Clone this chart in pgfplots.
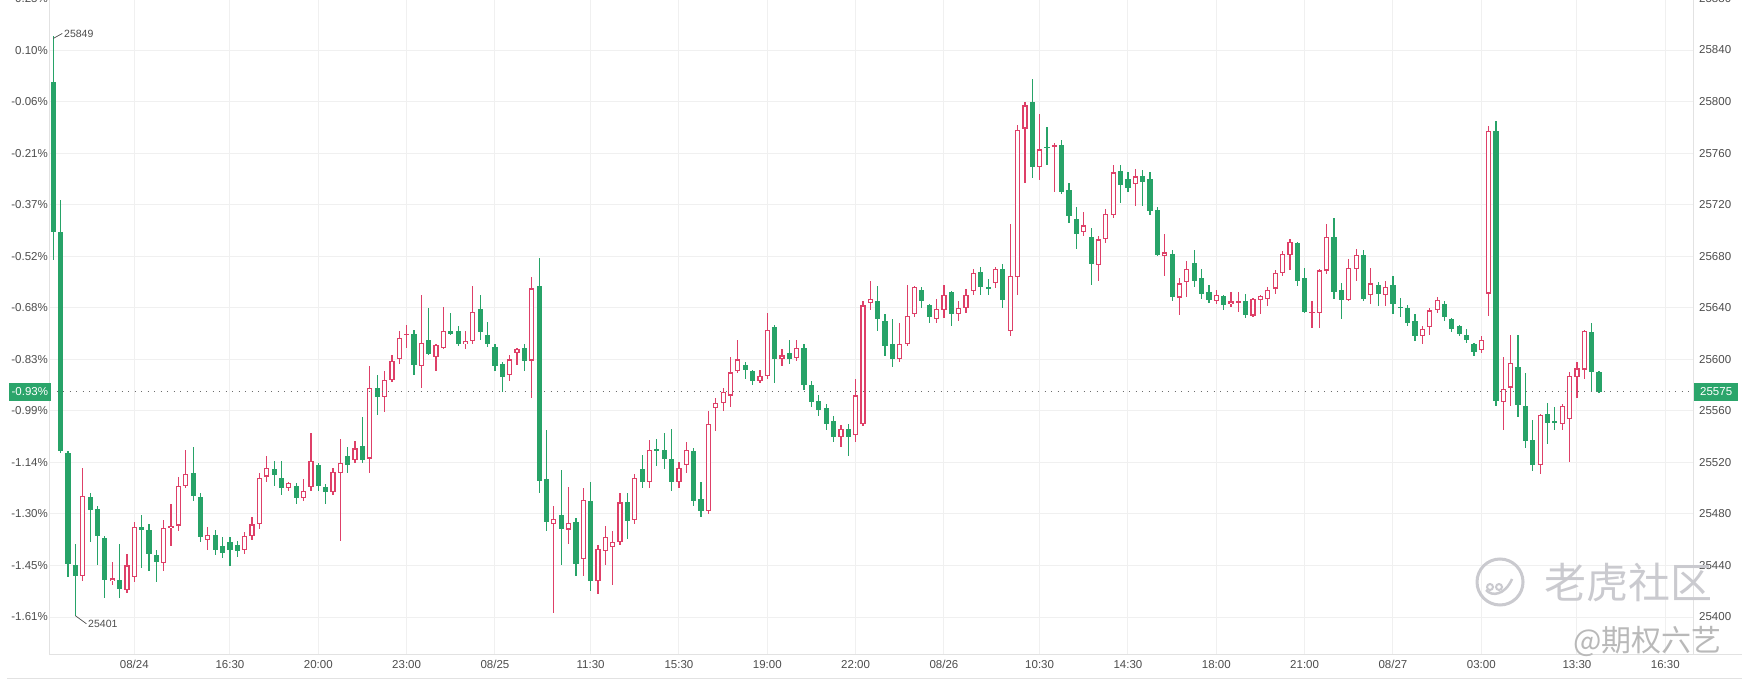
\documentclass[border=0pt]{standalone}
\usepackage{pgfplots}
\pgfplotsset{compat=1.18}
\usepackage{pgfplotstable}
\usepackage{fontspec}
\setmainfont{Liberation Sans}
\newfontfamily\cjk{Noto Sans CJK SC}
\definecolor{cred}{HTML}{DE4068}
\definecolor{cgreen}{HTML}{27A368}
\definecolor{boxgreen}{HTML}{2BA56B}
\definecolor{gridc}{HTML}{F0F0F0}
\definecolor{axc}{HTML}{E2E2E2}
\definecolor{lbl}{HTML}{4D4D4D}
\definecolor{wm}{HTML}{CACACF}

\pgfplotstableread{
i o h l c
4 25432 25516 25428 25494
8 25428 25443 25425 25430
10 25421 25449 25419 25440
11 25431 25474 25427 25470
15 25442 25475 25436 25469
16 25469 25488 25455 25471
17 25471 25509 25467 25502
18 25502 25530 25500 25511
21 25460 25470 25452 25464
26 25452 25466 25449 25463
27 25463 25478 25460 25472
28 25472 25512 25468 25508
29 25509 25525 25505 25516
32 25500 25505 25498 25504
34 25492 25507 25490 25498
35 25501 25543 25498 25521
38 25497 25516 25495 25513
39 25512 25538 25459 25520
41 25522 25537 25520 25531
43 25523 25595 25512 25578
45 25571 25591 25559 25584
46 25584 25603 25582 25599
47 25600 25622 25596 25617
48 25619 25627 25609 25620
50 25595 25650 25578 25613
52 25602 25612 25591 25611
53 25609 25641 25608 25622
56 25612 25622 25608 25614
57 25614 25657 25612 25637
62 25588 25603 25583 25600
63 25605 25609 25596 25608
65 25599 25664 25570 25655
68 25472 25486 25403 25476
70 25468 25501 25457 25473
72 25445 25500 25432 25491
74 25428 25456 25418 25453
75 25451 25471 25440 25462
76 25454 25467 25425 25458
77 25458 25496 25456 25489
79 25475 25511 25472 25508
81 25505 25537 25500 25530
85 25505 25520 25500 25516
86 25518 25536 25512 25530
89 25482 25560 25480 25550
90 25562 25570 25544 25566
91 25566 25578 25560 25575
92 25572 25602 25563 25590
93 25591 25615 25589 25600
96 25583 25592 25582 25587
97 25587 25636 25585 25623
99 25600 25608 25595 25603
101 25601 25615 25599 25609
107 25540 25549 25532 25546
109 25541 25585 25536 25572
110 25550 25645 25548 25642
111 25644 25661 25638 25647
115 25600 25628 25598 25612
116 25612 25658 25610 25634
117 25635 25657 25633 25656
120 25631 25647 25628 25639
121 25638 25658 25632 25650
123 25635 25645 25630 25640
124 25640 25655 25636 25650
125 25653 25670 25650 25667
128 25659 25672 25655 25670
130 25622 25705 25618 25665
131 25664 25782 25650 25778
132 25779 25800 25737 25797
134 25749 25790 25739 25763
136 25765 25768 25730 25766
140 25699 25714 25696 25704
142 25673 25696 25661 25693
143 25693 25717 25690 25713
144 25712 25751 25710 25745
147 25736 25748 25719 25742
151 25680 25697 25665 25683
153 25648 25663 25634 25659
154 25660 25676 25648 25670
158 25645 25654 25643 25650
160 25643 25652 25641 25645
161 25644 25652 25637 25645
163 25634 25648 25633 25647
164 25646 25650 25635 25649
165 25647 25656 25641 25654
166 25655 25669 25651 25667
167 25667 25684 25665 25682
168 25681 25693 25669 25691
171 25636 25645 25624 25637
172 25636 25670 25624 25669
173 25669 25705 25666 25695
176 25646 25678 25645 25671
177 25670 25686 25661 25681
179 25650 25671 25643 25659
181 25650 25661 25641 25656
186 25618 25626 25612 25624
187 25625 25640 25619 25638
188 25638 25648 25636 25646
194 25607 25618 25605 25615
195 25651 25781 25634 25777
197 25567 25602 25545 25577
198 25578 25619 25564 25597
202 25518 25558 25511 25557
205 25550 25565 25545 25564
206 25554 25590 25520 25587
207 25586 25598 25570 25593
208 25592 25623 25585 25622
}\redtab

\pgfplotstableread{
i o h l c
0 25815 25851 25677 25699
1 25699 25724 25527 25529
2 25527 25529 25431 25441
3 25440 25457 25401 25432
5 25493 25496 25458 25483
6 25484 25486 25440 25463
7 25461 25463 25415 25429
9 25429 25457 25415 25422
12 25470 25479 25438 25468
13 25468 25472 25436 25449
14 25448 25452 25427 25443
19 25512 25532 25490 25494
20 25493 25496 25458 25462
22 25464 25468 25448 25452
23 25455 25462 25446 25450
24 25458 25462 25440 25452
25 25456 25459 25447 25451
30 25515 25521 25502 25510
31 25508 25521 25495 25500
33 25502 25504 25488 25492
36 25518 25520 25498 25502
37 25501 25503 25488 25497
40 25525 25532 25512 25518
42 25533 25555 25520 25522
44 25578 25588 25557 25571
49 25620 25623 25588 25596
51 25615 25640 25603 25604
54 25622 25636 25619 25620
55 25622 25626 25610 25612
58 25639 25650 25615 25621
59 25619 25629 25610 25612
60 25610 25612 25591 25595
61 25596 25598 25575 25586
64 25609 25612 25591 25599
66 25657 25679 25496 25506
67 25507 25545 25467 25474
69 25479 25514 25440 25468
71 25474 25477 25432 25441
73 25490 25505 25420 25428
78 25489 25496 25461 25475
80 25515 25526 25500 25505
82 25530 25538 25517 25529
83 25530 25543 25515 25523
84 25523 25546 25498 25505
87 25529 25531 25486 25490
88 25492 25505 25478 25482
94 25596 25598 25585 25592
95 25591 25592 25580 25583
98 25625 25627 25582 25600
100 25605 25615 25596 25600
102 25609 25612 25576 25580
103 25580 25583 25563 25567
104 25568 25572 25556 25561
105 25562 25565 25545 25550
106 25552 25556 25536 25540
108 25546 25550 25525 25540
112 25645 25657 25622 25631
113 25630 25635 25603 25610
114 25612 25631 25594 25600
118 25654 25656 25640 25645
119 25642 25643 25628 25633
122 25652 25653 25626 25635
126 25668 25672 25650 25656
127 25656 25662 25650 25655
129 25670 25674 25640 25646
133 25800 25818 25741 25749
135 25765 25780 25751 25764
137 25766 25770 25728 25730
138 25731 25737 25706 25711
139 25709 25718 25686 25697
141 25695 25702 25658 25674
145 25746 25751 25721 25735
146 25740 25745 25730 25733
148 25742 25747 25719 25738
149 25740 25745 25712 25715
150 25716 25718 25680 25681
152 25682 25685 25645 25648
155 25675 25685 25656 25661
156 25663 25670 25647 25651
157 25652 25658 25644 25646
159 25649 25650 25638 25642
162 25645 25651 25632 25634
169 25690 25691 25657 25661
170 25663 25671 25636 25637
174 25695 25710 25647 25652
175 25654 25659 25631 25646
178 25681 25685 25645 25647
180 25658 25660 25641 25651
182 25658 25665 25635 25643
183 25641 25648 25633 25640
184 25640 25642 25626 25628
185 25630 25635 25614 25618
189 25643 25645 25630 25633
190 25631 25632 25621 25624
191 25626 25627 25618 25620
192 25619 25624 25613 25615
193 25612 25613 25603 25606
196 25777 25785 25564 25568
199 25594 25619 25555 25565
200 25564 25589 25531 25537
201 25537 25553 25513 25518
203 25558 25566 25534 25551
204 25552 25563 25545 25551
209 25621 25628 25575 25590
210 25590 25591 25574 25575
}\greentab

\begin{document}
\begin{tikzpicture}
\useasboundingbox (0,0) rectangle (1755pt,683pt);
\fill[white] (0,0) rectangle (1755pt,683pt);
\draw[axc, line width=1pt] (7pt,5pt) -- (1742pt,5pt);
\draw[axc, line width=1pt] (1694pt,29pt) -- (1742pt,29pt);
\begin{axis}[
  at={(50pt,29pt)}, anchor=south west, scale only axis,
  width=1644pt, height=655.5pt,
  xmin=-0.45, xmax=222.9, ymin=25371.3, ymax=25880,
  clip=false,
  axis line style={draw=axc, line width=1pt},
  xtick={11,24,36,48,60,73,85,97,109,121,134,146,158,170,182,194,207,219},
  xticklabels={08/24,16:30,20:00,23:00,08/25,11:30,15:30,19:00,22:00,08/26,10:30,14:30,18:00,21:00,08/27,03:00,13:30,16:30},
  ytick={25400,25440,25480,25520,25560,25600,25640,25680,25720,25760,25800,25840,25880},
  yticklabels={-1.61\%,-1.45\%,-1.30\%,-1.14\%,-0.99\%,-0.83\%,-0.68\%,-0.52\%,-0.37\%,-0.21\%,-0.06\%,0.10\%,0.25\%},
  grid=major, grid style={draw=gridc, line width=1pt},
  tick style={draw=none},
  ticklabel style={font=\fontsize{11.5}{13}\selectfont, text=lbl},
  yticklabel style={anchor=east, inner sep=0pt, xshift=-2pt},
  xticklabel style={anchor=north, inner sep=0pt, yshift=-6pt},
  candle/.style={draw=none, mark=none, error bars/.cd, y dir=both, y explicit, error mark=none},
]
% green wicks and bodies
\addplot[candle, error bar style={line width=1.2pt, draw=cgreen}]
  table[x=i, y expr={(\thisrow{h}+\thisrow{l})/2}, y error expr={(\thisrow{h}-\thisrow{l})/2}]{\greentab};
\addplot[candle, error bar style={line width=5.2pt, draw=cgreen}]
  table[x=i, y expr={(\thisrow{o}+\thisrow{c})/2}, y error expr={max((\thisrow{o}-\thisrow{c})/2,0.55)}]{\greentab};
% red wicks, bodies, hollow interiors
\addplot[candle, error bar style={line width=1.2pt, draw=cred}]
  table[x=i, y expr={(\thisrow{h}+\thisrow{l})/2}, y error expr={(\thisrow{h}-\thisrow{l})/2}]{\redtab};
\addplot[candle, error bar style={line width=5.2pt, draw=cred}]
  table[x=i, y expr={(\thisrow{o}+\thisrow{c})/2}, y error expr={max((\thisrow{c}-\thisrow{o})/2,0.55)}]{\redtab};
\addplot[candle, error bar style={line width=2.8pt, draw=white}]
  table[x=i, y expr={(\thisrow{o}+\thisrow{c})/2}, y error expr={max((\thisrow{c}-\thisrow{o})/2-0.93,0)}]{\redtab};
\coordinate (hi) at (axis cs:0,25849);
\coordinate (lo) at (axis cs:3,25401);
\coordinate (cur) at (axis cs:-0.45,25575);
\coordinate (curR) at (axis cs:222.9,25575);
\end{axis}
\begin{axis}[
  at={(50pt,29pt)}, anchor=south west, scale only axis,
  width=1644pt, height=655.5pt,
  xmin=-0.45, xmax=222.9, ymin=25371.3, ymax=25880,
  hide x axis, axis y line*=right, y axis line style={draw=none}, tick style={draw=none},
  ytick={25400,25440,25480,25520,25560,25600,25640,25680,25720,25760,25800,25840,25880},
  yticklabels={25400,25440,25480,25520,25560,25600,25640,25680,25720,25760,25800,25840,25880},
  yticklabel style={anchor=west, inner sep=0pt, xshift=5pt, font=\fontsize{11.5}{13}\selectfont, text=lbl},
]
\addplot[draw=none] coordinates {(0,25500)};
\end{axis}
% current price line and boxes
\draw[gray!85!black, line width=1pt, dash pattern=on 1pt off 5.5pt] (cur) -- (curR);
\node[fill=boxgreen, text=white, anchor=east, minimum height=18pt, minimum width=42pt, inner sep=0pt,
  font=\fontsize{11.5}{13}\selectfont] at ([xshift=1pt]cur) {-0.93\%};
\node[fill=boxgreen, text=white, anchor=west, minimum height=18pt, minimum width=44pt, inner sep=0pt,
  font=\fontsize{11.5}{13}\selectfont] at (curR) {25575};
% extreme annotations
\draw[lbl, line width=0.7pt] (hi) -- ++(9pt,5pt) node[right, inner sep=1.5pt, font=\fontsize{10.5}{12}\selectfont, text=lbl]{25849};
\draw[lbl, line width=0.7pt] (lo) -- ++(11pt,-8pt) node[right, inner sep=1.5pt, font=\fontsize{10.5}{12}\selectfont, text=lbl]{25401};
% watermark
\draw[wm, line width=3pt] (1500pt,101pt) circle (23pt);
\draw[wm, line width=2.5pt] (1486pt,93pt) .. controls (1492pt,86pt) and (1505pt,88pt) .. (1512pt,104pt);
\draw[wm, line width=2pt] (1490pt,96pt) circle (3pt);
\draw[wm, line width=2pt] (1499pt,96pt) circle (3pt);
\node[text=wm, font=\cjk\fontsize{42}{42}\selectfont, anchor=west, inner sep=0pt] at (1544pt,101pt) {老虎社区};
\node[text=gray!55, font=\cjk\fontsize{30}{30}\selectfont, anchor=east, inner sep=0pt] at (1722pt,42pt) {@期权六艺};
\end{tikzpicture}
\end{document}
